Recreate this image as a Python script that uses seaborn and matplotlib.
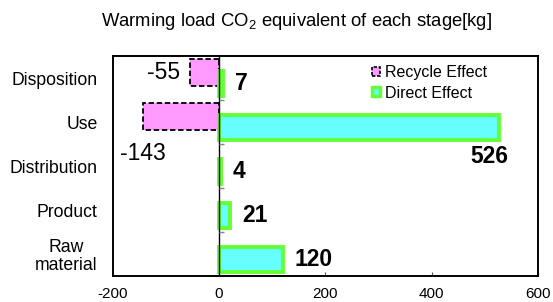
import matplotlib
matplotlib.use("Agg")
import matplotlib.pyplot as plt
from matplotlib.patches import Patch
import seaborn as sns
import pandas as pd

# ---- data ----
stages = ["Disposition", "Use", "Distribution", "Product", "Raw\nmaterial"]
recycle_stages = ["Disposition", "Use"]
recycle_values = [-55, -143]
direct_values = [7, 526, 4, 21, 120]
x_ticks = [-200, 0, 200, 400, 600]
title = r"Warming load CO$_\mathrm{2}$ equivalent of each stage[kg]"
legend_labels = ["Recycle Effect", "Direct Effect"]

# ---- style ----
sns.set_style("white")
plt.rcParams["font.family"] = ["Liberation Sans", "DejaVu Sans"]
plt.rcParams["mathtext.fontset"] = "custom"
plt.rcParams["mathtext.rm"] = "Liberation Sans"
plt.rcParams["text.color"] = "black"
plt.rcParams["xtick.color"] = "black"
plt.rcParams["ytick.color"] = "black"
plt.rcParams["axes.labelcolor"] = "black"

PINK = "#FF99FF"
CYAN = "#66FFFF"
GREEN = "#66FF33"

fig = plt.figure(figsize=(5.53, 3.02), dpi=100)
ax = fig.add_axes([112.7 / 553, 26 / 302, (538 - 112.7) / 553, 220 / 302])

rec_df = pd.DataFrame({"stage": recycle_stages, "value": recycle_values})
dir_df = pd.DataFrame({"stage": stages, "value": direct_values})

sns.barplot(data=rec_df, x="value", y="stage", order=stages, orient="h",
            width=0.62, color=PINK, saturation=1, errorbar=None,
            edgecolor="black", linewidth=1.3, linestyle=(0, (3, 1.5)), ax=ax)
rec_container = ax.containers[-1]
sns.barplot(data=dir_df, x="value", y="stage", order=stages, orient="h",
            width=0.58, color=CYAN, saturation=1, errorbar=None,
            edgecolor=GREEN, linewidth=2.8, ax=ax)
dir_container = ax.containers[-1]

# offset the two series within each category slot
for p in rec_container.patches:
    p.set_y(p.get_y() - 0.13)
for p in dir_container.patches:
    p.set_y(p.get_y() + 0.12)

# zero line and small category ticks at zero
ax.axvline(0, color="black", lw=1.0, zorder=5)
bounds = [i + 0.5 for i in range(len(stages) - 1)]
ax.hlines(bounds, 0, 9, color="#888888", lw=1.0, zorder=5)

# value labels
def bar_center(p):
    return p.get_y() + p.get_height() / 2

rec_offsets = {"Disposition": (-7, 0, "right"), "Use": (0, -26.5, "center")}
for p, st, v in zip(rec_container.patches, recycle_stages, recycle_values):
    dx, dy, ha = rec_offsets[st]
    ax.annotate(f"{v}", xy=(v, bar_center(p)), xytext=(dx, dy),
                textcoords="offset points", ha=ha, va="center",
                fontsize=16.5, color="black")

for p, st, v in zip(dir_container.patches, stages, direct_values):
    if st == "Use":
        dx, dy, ha = (-7, -21, "center")
    else:
        dx, dy, ha = (8.5, 0, "left")
    ax.annotate(f"{v}", xy=(v, bar_center(p)), xytext=(dx, dy),
                textcoords="offset points", ha=ha, va="center",
                fontsize=16.5, fontweight="bold", color="black")

# axes
ax.set_xlim(x_ticks[0], x_ticks[-1])
ax.set_ylim(len(stages) - 0.5, -0.5)
ax.set_xticks(x_ticks)
ax.set_xticklabels([str(t) for t in x_ticks])
ax.set_xlabel("")
ax.set_ylabel("")
ax.tick_params(axis="x", direction="in", length=3, width=0.8, color="#555555",
               labelcolor="black", labelsize=11, pad=8, bottom=True)
ax.tick_params(axis="y", length=0, labelsize=12.7, pad=11, labelcolor="black")
for lab in ax.get_yticklabels():
    lab.set_multialignment("center")
    lab.set_linespacing(1.1)
for s in ax.spines.values():
    s.set_visible(True)
    s.set_color("black")
    s.set_linewidth(1.4)

# legend
handles = [
    Patch(facecolor=PINK, edgecolor="black", linestyle=(0, (2, 1)), linewidth=1.2),
    Patch(facecolor=CYAN, edgecolor=GREEN, linewidth=2.5),
]
leg = ax.legend(handles, legend_labels, loc="upper left",
                bbox_to_anchor=(372 / 553, 1 - 65 / 302), bbox_transform=fig.transFigure,
                frameon=False, fontsize=11.5, handlelength=0.5, handleheight=0.5,
                handletextpad=0.3, labelspacing=0.35, borderpad=0, borderaxespad=0)

fig.text(296.5 / 553, 1 - 22 / 302, title, ha="center", va="center", fontsize=13.3,
         color="black")

fig.savefig("out.png", dpi=100)
